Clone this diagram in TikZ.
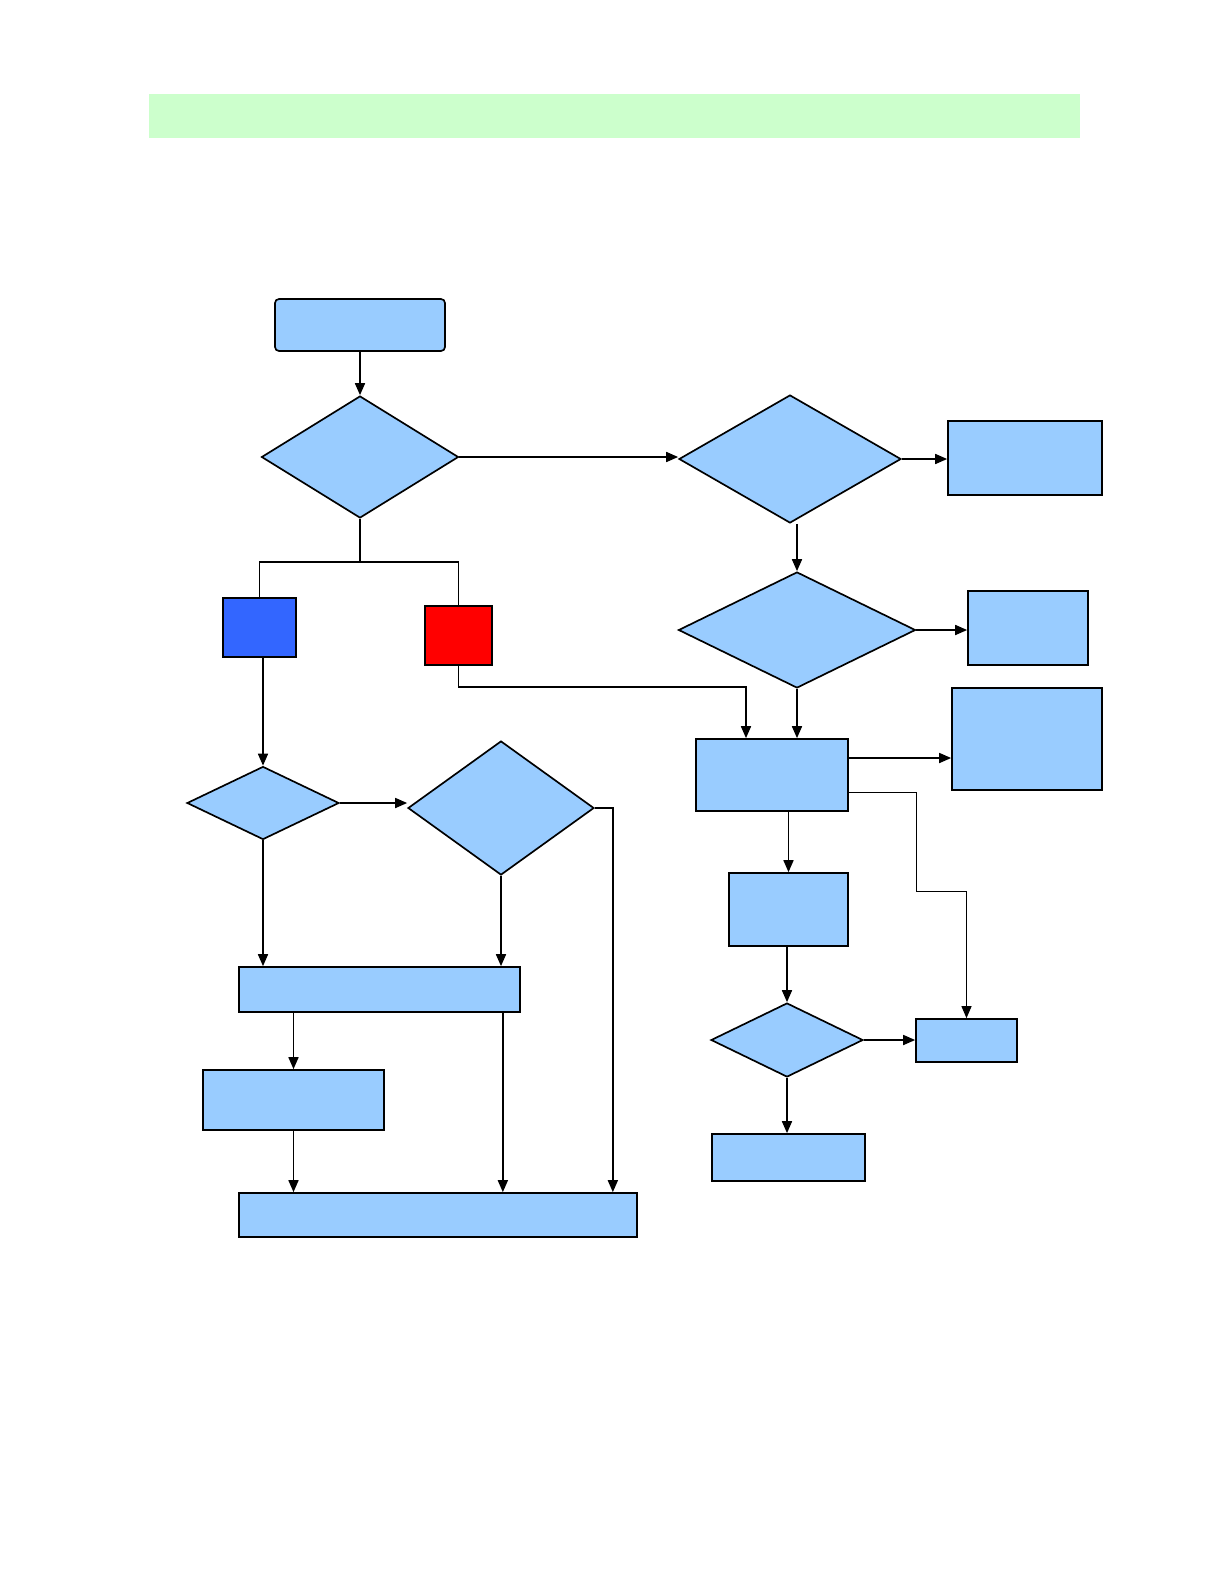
\documentclass[tikz,border=0pt]{standalone}
\usepackage{xcolor}
\usepackage{tikz}
\usetikzlibrary{positioning,arrows.meta,shapes.geometric,calc}
\definecolor{StepFill}{RGB}{153,204,255}
\definecolor{BarGreen}{RGB}{204,255,204}
\definecolor{KeyBlue}{RGB}{51,102,255}

\begin{document}
\begin{tikzpicture}[
x=0.25mm,y=-0.25mm,
line width=0.42mm,
box/.style={rectangle,draw=black,fill=StepFill,inner sep=0pt},
choice/.style={diamond,draw=black,fill=StepFill,inner sep=0pt},
arrow/.style={-{Triangle[length=3mm,width=2.5mm]},draw=black},
link/.style={draw=black},
thinarrow/.style={arrow,line width=0.25mm}
]
\useasboundingbox (0,0) rectangle (1224,1584);
\node[rectangle,fill=BarGreen,minimum width=232.75mm,minimum height=11mm,inner sep=0pt] (bar) at (614.5,116) {};

\node[box,rounded corners=1mm,minimum width=42.5mm,minimum height=13mm] (start) at (360,325) {};
\node[choice,minimum width=49.25mm,minimum height=30.5mm] (d1) at (360,457) {};
\node[choice,minimum width=55.5mm,minimum height=32mm] (d2) at (790,459) {};
\node[box,minimum width=38.5mm,minimum height=18.5mm] (r1) at (1025,458) {};
\node[choice,minimum width=59.25mm,minimum height=29mm] (d3) at (797,630) {};
\node[box,minimum width=30mm,minimum height=18.5mm] (r2) at (1028,628) {};
\node[box,fill=KeyBlue,minimum width=18.25mm,minimum height=14.75mm] (blue) at (259.5,627.5) {};
\node[box,fill=red,minimum width=16.75mm,minimum height=14.75mm] (red) at (458.5,635.5) {};
\node[choice,minimum width=38mm,minimum height=18.25mm] (d4) at (263,803) {};
\node[choice,minimum width=46.5mm,minimum height=33.5mm] (d5) at (501,808) {};
\node[box,minimum width=70.25mm,minimum height=11.25mm] (b1) at (379.5,989.5) {};
\node[box,minimum width=45.25mm,minimum height=15mm] (b2) at (293.5,1100) {};
\node[box,minimum width=99.5mm,minimum height=11mm] (b3) at (438,1215) {};
\node[box,minimum width=38mm,minimum height=18mm] (mid) at (772,775) {};
\node[box,minimum width=37.5mm,minimum height=25.5mm] (r3) at (1027,739) {};
\node[box,minimum width=29.75mm,minimum height=18.25mm] (n1) at (788.5,909.5) {};
\node[choice,minimum width=38mm,minimum height=18.5mm] (d6) at (787,1040) {};
\node[box,minimum width=25.25mm,minimum height=10.75mm] (r4) at (966.5,1040.5) {};
\node[box,minimum width=38.25mm,minimum height=11.75mm] (r5) at (788.5,1157.5) {};

% top branch
\draw[arrow] (start)--(d1);
\draw[arrow] (d1.east)--(d1.east-|d2.west);
\draw[arrow] (d2.east)--(d2.east-|r1.west);
\draw[arrow] (d3.north|-d2.south)--(d3.north);
\draw[arrow] (d3.east)--(d3.east-|r2.west);
\coordinate (split) at (360,562);
\draw[link] (d1.south)--(split);
\draw[link] (blue.north)|-(split)-|(red.north);
\draw[arrow] (red.south)--++(0,21)-|($(mid.north)+(-26,0)$);
\draw[arrow] (d3.south)--(d3.south|-mid.north);

% right column
\draw[arrow] ($(mid.east)+(0,-17)$) coordinate (m1)--(m1-|r3.west);
\draw[thinarrow] ($(mid.south east)+(0,-19)$)--++(68,0)--++(0,99)-|(r4.north);
\draw[arrow] (n1.north|-mid.south)--(n1.north);
\draw[arrow] (d6.north|-n1.south)--(d6.north);
\draw[arrow] (d6.east)--(d6.east-|r4.west);
\draw[arrow] (d6.south)--(d6.south|-r5.north);

% left column
\draw[arrow] (d4.north|-blue.south)--(d4.north);
\draw[arrow] (d4.east)--(d4.east-|d5.west);
\draw[arrow] (d4.south)--(d4.south|-b1.north);
\draw[arrow] (d5.south)--(d5.south|-b1.north);
\draw[arrow] (d5.east)--++(18,0) coordinate (turn)--(turn|-b3.north);
\draw[arrow] (b2.north|-b1.south)--(b2.north);
\draw[arrow] (b2.south)--(b2.south|-b3.north);
\draw[arrow] ($(b1.south east)+(-18,0)$) coordinate (b1x)--(b1x|-b3.north);
\end{tikzpicture}
\end{document}
